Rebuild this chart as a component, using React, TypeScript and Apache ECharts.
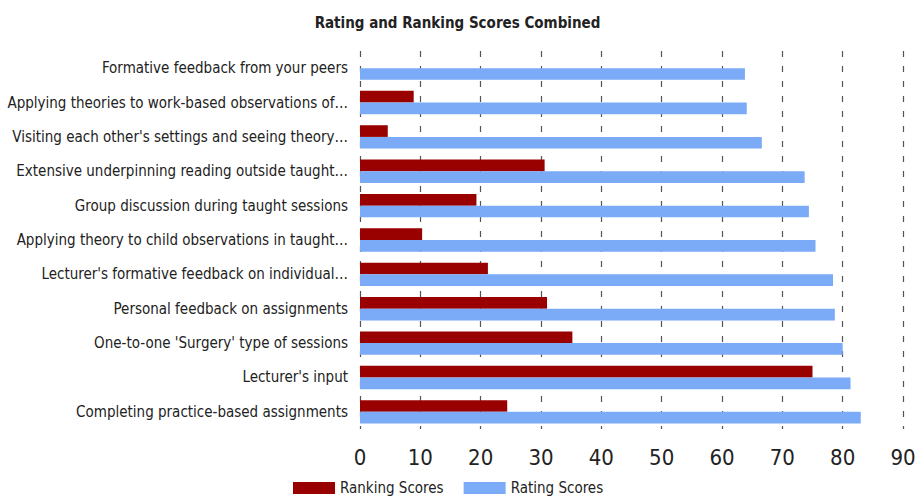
import React, { useEffect, useRef } from "react";
import * as echarts from "echarts";

const categories = [
  "Formative feedback from your peers",
  "Applying theories to work-based observations of…",
  "Visiting each other's settings and seeing theory…",
  "Extensive underpinning reading outside taught…",
  "Group discussion during taught sessions",
  "Applying theory to child observations in taught…",
  "Lecturer's formative feedback on individual…",
  "Personal feedback on assignments",
  "One-to-one 'Surgery' type of sessions",
  "Lecturer's input",
  "Completing practice-based assignments",
];
const rankingScores = [0, 8.9, 4.6, 30.6, 19.3, 10.3, 21.2, 31.0, 35.2, 75.0, 24.4];
const ratingScores = [63.8, 64.1, 66.6, 73.7, 74.4, 75.5, 78.4, 78.7, 80.0, 81.3, 83.0];
const xTicks = { min: 0, max: 90, interval: 10 };

const FONT = "'DejaVu Sans Condensed', 'Liberation Sans Narrow', sans-serif";

export default function App() {
  const ref = useRef<HTMLDivElement>(null);
  useEffect(() => {
    if (!ref.current) return;
    const chart = echarts.init(ref.current, null, { renderer: "svg" });
    chart.setOption({
      animation: false,
      textStyle: { fontFamily: FONT },
      title: {
        text: "Rating and Ranking Scores Combined",
        left: "center",
        top: 10,
        textStyle: { fontFamily: FONT, fontSize: 15, fontWeight: "bold", color: "#222" },
      },
      legend: {
        left: 293,
        top: 480,
        padding: 0,
        itemWidth: 42,
        itemHeight: 12,
        itemGap: 20,
        icon: "rect",
        textStyle: { fontFamily: FONT, fontSize: 15, lineHeight: 16, color: "#222" },
        data: ["Ranking Scores", "Rating Scores"],
      },
      grid: { left: 360, right: 12, top: 51, bottom: 73, containLabel: false, outerBoundsMode: "none" },
      xAxis: {
        type: "value",
        min: xTicks.min,
        max: xTicks.max,
        interval: xTicks.interval,
        axisLine: { show: false },
        axisTick: { show: false },
        axisLabel: { fontFamily: FONT, fontSize: 22, color: "#222", margin: 17 },
        splitLine: { show: true, lineStyle: { color: "#555", type: [6, 9], width: 1.2 } },
      },
      yAxis: {
        type: "category",
        inverse: true,
        data: categories,
        axisLine: { show: false },
        axisTick: { show: false },
        axisLabel: { fontFamily: FONT, fontSize: 15, color: "#222", margin: 12 },
      },
      series: [
        {
          name: "Ranking Scores",
          type: "bar",
          data: rankingScores,
          itemStyle: { color: "#990000" },
          barGap: "0%",
          barCategoryGap: "32%",
        },
        {
          name: "Rating Scores",
          type: "bar",
          data: ratingScores,
          itemStyle: { color: "#7BAAF7" },
          barGap: "0%",
          barCategoryGap: "32%",
        },
      ],
    });
    return () => chart.dispose();
  }, []);
  return <div ref={ref} style={{ width: 915, height: 502, position: "absolute", left: 0, top: 0 }} />;
}
